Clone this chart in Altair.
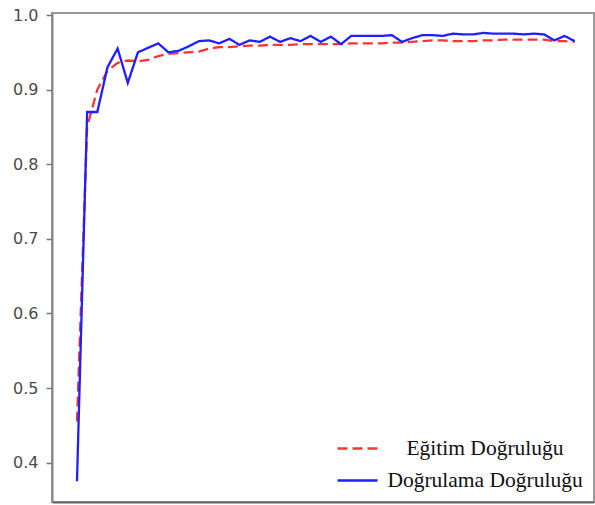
import altair as alt
import pandas as pd

epochs = list(range(50))
train_acc = [0.455, 0.850, 0.900, 0.925, 0.936, 0.939, 0.938, 0.940, 0.945, 0.948,
             0.949, 0.950, 0.951, 0.955, 0.957, 0.957, 0.958, 0.959, 0.959, 0.960,
             0.960, 0.960, 0.961, 0.961, 0.961, 0.961, 0.961, 0.962, 0.962, 0.962,
             0.962, 0.963, 0.963, 0.964, 0.965, 0.966, 0.966, 0.965, 0.965, 0.965,
             0.966, 0.966, 0.967, 0.967, 0.967, 0.967, 0.967, 0.965, 0.965, 0.964]
val_acc = [0.375, 0.870, 0.870, 0.930, 0.955, 0.909, 0.950, 0.956, 0.962, 0.950,
           0.952, 0.958, 0.965, 0.966, 0.962, 0.968, 0.960, 0.966, 0.964, 0.971,
           0.964, 0.969, 0.965, 0.972, 0.964, 0.971, 0.961, 0.972, 0.972, 0.972,
           0.972, 0.973, 0.964, 0.969, 0.973, 0.973, 0.972, 0.975, 0.974, 0.974,
           0.976, 0.975, 0.975, 0.975, 0.974, 0.975, 0.974, 0.966, 0.972, 0.965]

series_names = ["Eğitim Doğruluğu", "Doğrulama Doğruluğu"]
series_colors = ["#ff3333", "#1f1fff"]
series_dash = [[10, 5], [1, 0]]

df = pd.concat([
    pd.DataFrame({"epoch": epochs, "acc": train_acc, "series": series_names[0], "order": 0}),
    pd.DataFrame({"epoch": epochs, "acc": val_acc, "series": series_names[1], "order": 1}),
])

def make_legend():
    return alt.Legend(title=None, orient="none", legendX=284, legendY=414,
                      labelFont="Liberation Serif", labelFontSize=21.5, labelLimit=400,
                      labelColor="#111111", symbolType="stroke",
                      symbolSize=1600, symbolStrokeWidth=2.5,
                      labelAlign="center", labelOffset=106,
                      rowPadding=0, padding=0)

chart = alt.Chart(df).mark_line(strokeWidth=2.3).encode(
    x=alt.X("epoch:Q", scale=alt.Scale(domain=[-2.46, 50.9], nice=False, zero=False),
            axis=alt.Axis(title=None, labels=False, ticks=False, grid=False,
                          domainColor="#666666", domainWidth=2)),
    y=alt.Y("acc:Q", scale=alt.Scale(domain=[0.3472, 1.0027], nice=False, zero=False),
            axis=alt.Axis(title=None, values=[0.4, 0.5, 0.6, 0.7, 0.8, 0.9, 1.0], format=".1f",
                          grid=False, tickSize=6, tickColor="#777777", tickWidth=1.5,
                          domainColor="#888888", domainWidth=2,
                          labelFont="DejaVu Sans", labelFontSize=16, labelColor="#4a4a4a",
                          labelPadding=8)),
    color=alt.Color("series:N", scale=alt.Scale(domain=series_names, range=series_colors),
                    legend=make_legend()),
    strokeDash=alt.StrokeDash("series:N", scale=alt.Scale(domain=series_names, range=series_dash),
                              legend=make_legend()),
    order=alt.Order("order:Q"),
    detail="series:N",
).properties(
    width=542, height=489,
    autosize=alt.AutoSizeParams(type="none"),
    padding={"left": 52, "top": 13, "right": 1, "bottom": 3},
    background="white",
).configure_view(stroke="#999999", strokeWidth=2)

chart.save("out.html", embed_options={"renderer": "svg", "actions": False})
